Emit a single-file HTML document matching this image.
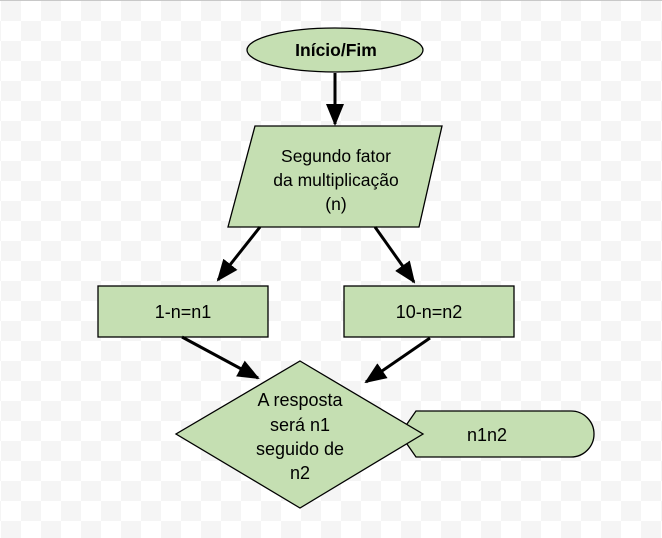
<!DOCTYPE html><html><head><style>
html,body{margin:0;padding:0}
body{width:662px;height:538px;overflow:hidden;background-color:#fff;
background-image:linear-gradient(45deg,#f5f5f5 25%,transparent 25%,transparent 75%,#f5f5f5 75%),linear-gradient(45deg,#f5f5f5 25%,transparent 25%,transparent 75%,#f5f5f5 75%);
background-size:40px 40px;background-position:21px 1px,1px 21px;border-top:1px solid #c8c8c8;box-sizing:border-box}
</style></head><body>
<svg width="662" height="538" style="position:absolute;left:0;top:0" font-family="Liberation Sans, sans-serif">
<defs><marker id="b" markerWidth="22" markerHeight="18" refX="20" refY="9" orient="auto" markerUnits="userSpaceOnUse"><path d="M0,0 L22,9 L0,18 z" fill="#000"/></marker></defs>
<g fill="#c5dfb2" stroke="#000" stroke-width="1.3">
<ellipse cx="335" cy="50" rx="88" ry="22"/>
<polygon points="255,126 442,126 419,227 228,227"/>
<rect x="98" y="286" width="170" height="51"/>
<rect x="344" y="286" width="170" height="51"/>
<path d="M400,434 L416,411 L571,411 A23,23 0 0 1 571,457 L416,457 Z"/>
<polygon points="300,361 423,434 300,508 176,434"/>
</g>
<g stroke="#000" stroke-width="3" fill="none">
<line x1="335" y1="73" x2="335" y2="124" marker-end="url(#b)"/>
<line x1="260" y1="227" x2="218" y2="280" marker-end="url(#b)"/>
<line x1="375" y1="227" x2="414" y2="282" marker-end="url(#b)"/>
<line x1="182" y1="337" x2="258" y2="378" marker-end="url(#b)"/>
<line x1="430" y1="338" x2="366" y2="382" marker-end="url(#b)"/>
</g>
<g font-size="17.5" text-anchor="middle" fill="#000">
<text x="336" y="56" font-weight="bold">Início/Fim</text>
<text x="336" y="162">Segundo fator</text>
<text x="336" y="186">da multiplicação</text>
<text x="336" y="210">(n)</text>
<g font-size="18">
<text x="183" y="318">1-n=n1</text>
<text x="429" y="318">10-n=n2</text>
<text x="487" y="441">n1n2</text>
</g>
<g font-size="18"><text x="300" y="406">A resposta</text><text x="300" y="431">será n1</text><text x="300" y="455">seguido de</text><text x="300" y="479">n2</text></g>
</g>
</svg>
</body></html>
